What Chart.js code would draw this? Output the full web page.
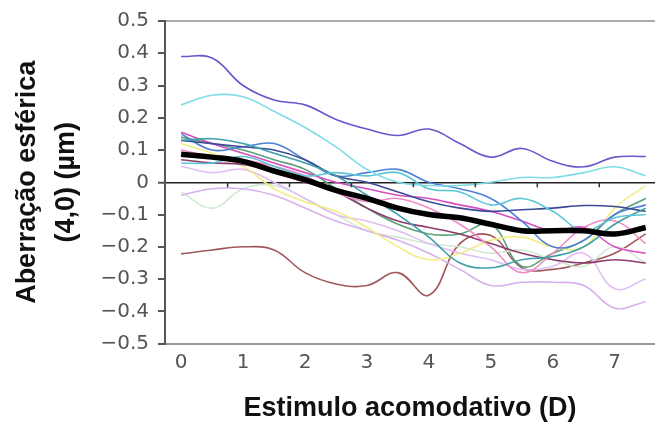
<!DOCTYPE html>
<html lang="pt">
<head>
    <meta charset="UTF-8">
    <title>Aberração esférica vs estímulo acomodativo</title>
    <script src="https://cdn.jsdelivr.net/npm/chart.js"></script>
    <style>
        html, body {
            margin: 0;
            padding: 0;
            background: #fff;
        }
        .chart-container {
            position: relative;
            width: 655px;
            height: 425px;
        }
    </style>
</head>
<body>
    <div class="chart-container">
        <canvas id="aberrationChart"></canvas>
    </div>

    <script>
        // Accommodative stimulus (D) sample points
        const stimulus = [0, 0.5, 1, 1.5, 2, 2.5, 3, 3.5, 4, 4.5, 5, 5.5, 6, 6.5, 7, 7.5];
        const xTicks = [0, 1, 2, 3, 4, 5, 6, 7];
        const yTicks = [0.5, 0.4, 0.3, 0.2, 0.1, 0, -0.1, -0.2, -0.3, -0.4, -0.5];

        // Mean curve (thick black)
        const mean = [0.087, 0.078, 0.065, 0.035, 0.008, -0.025, -0.05, -0.08, -0.1, -0.11, -0.13, -0.15, -0.15, -0.15, -0.16, -0.14];

        // Individual subjects
        const purple   = [0.39, 0.385, 0.30, 0.255, 0.24, 0.195, 0.165, 0.145, 0.165, 0.12, 0.078, 0.105, 0.065, 0.048, 0.078, 0.08];
        const cyan     = [0.24, 0.27, 0.265, 0.22, 0.17, 0.11, 0.04, 0.0, -0.01, -0.01, 0.0, 0.015, 0.015, 0.03, 0.048, 0.02];
        const cyan2    = [0.06, 0.06, 0.08, 0.05, 0.02, 0.03, 0.02, 0.03, -0.02, -0.03, -0.07, -0.05, -0.09, -0.15, -0.11, -0.1];
        const teal     = [0.13, 0.135, 0.12, 0.09, 0.06, 0.02, -0.04, -0.1, -0.17, -0.25, -0.265, -0.24, -0.23, -0.2, -0.13, -0.08];
        const navy     = [0.13, 0.12, 0.11, 0.1, 0.07, 0.02, 0.0, -0.03, -0.06, -0.08, -0.09, -0.085, -0.08, -0.072, -0.075, -0.09];
        const blue     = [0.15, 0.1, 0.11, 0.12, 0.07, 0.02, 0.03, 0.04, 0.0, -0.02, -0.05, -0.12, -0.2, -0.18, -0.1, -0.07];
        const magenta  = [0.155, 0.12, 0.09, 0.06, 0.03, 0.0, -0.02, -0.04, -0.05, -0.07, -0.09, -0.12, -0.15, -0.14, -0.2, -0.22];
        const pink     = [0.1, 0.08, 0.07, 0.05, 0.02, -0.03, -0.06, -0.05, -0.08, -0.13, -0.2, -0.28, -0.22, -0.14, -0.12, -0.19];
        const maroon   = [0.07, 0.06, 0.055, 0.03, 0.0, -0.03, -0.08, -0.12, -0.14, -0.16, -0.19, -0.22, -0.24, -0.25, -0.24, -0.25];
        const yellow   = [0.12, 0.09, 0.05, -0.02, -0.06, -0.09, -0.14, -0.2, -0.24, -0.22, -0.18, -0.17, -0.2, -0.2, -0.08, -0.01];
        const lavender = [-0.04, -0.02, -0.02, -0.04, -0.08, -0.12, -0.15, -0.18, -0.22, -0.27, -0.32, -0.31, -0.31, -0.32, -0.39, -0.37];
        const lilac    = [0.05, 0.03, 0.04, 0.0, -0.05, -0.1, -0.12, -0.15, -0.19, -0.22, -0.24, -0.27, -0.26, -0.22, -0.33, -0.3];
        const mint     = [-0.03, -0.08, -0.02, -0.01, -0.05, -0.1, -0.15, -0.17, -0.19, -0.2, -0.22, -0.21, -0.24, -0.26, -0.2, -0.25];
        const green    = [0.14, 0.12, 0.1, 0.07, 0.04, -0.02, -0.08, -0.13, -0.16, -0.16, -0.13, -0.26, -0.22, -0.18, -0.1, -0.05];
        const brown    = [-0.222, -0.21, -0.2, -0.21, -0.28, -0.315, -0.32, -0.28, -0.35, -0.19, -0.165, -0.265, -0.27, -0.25, -0.22, -0.16];

        const subjects = [
            { data: purple,   color: '#6a56cc' },
            { data: cyan,     color: '#7fdde6' },
            { data: cyan2,    color: '#5cc6d6' },
            { data: teal,     color: '#3fa0a8' },
            { data: navy,     color: '#3b4c96' },
            { data: blue,     color: '#4d80d6' },
            { data: magenta,  color: '#d64ec2' },
            { data: pink,     color: '#f08cc8' },
            { data: maroon,   color: '#8c3c6c' },
            { data: yellow,   color: '#f2ee86' },
            { data: lavender, color: '#d8b0ee' },
            { data: lilac,    color: '#e2bef2' },
            { data: mint,     color: '#d2ead4' },
            { data: green,    color: '#5aa27a' },
            { data: brown,    color: '#a0585c' }
        ];

        function toPoints(values) {
            return values.map((v, i) => ({ x: stimulus[i], y: v }));
        }

        const datasets = [{
            data: toPoints(mean),
            borderColor: '#000',
            borderWidth: 5.5,
            order: 0
        }];
        subjects.forEach(s => {
            datasets.push({
                data: toPoints(s.data),
                borderColor: s.color,
                borderWidth: 1.6,
                order: 1
            });
        });

        // small tick marks hanging below the zero line
        const zeroTicks = {
            id: 'zeroTicks',
            afterDatasetsDraw(chart) {
                const ctx = chart.ctx;
                const x = chart.scales.x;
                const y0 = chart.scales.y.getPixelForValue(0);
                ctx.save();
                ctx.strokeStyle = '#333';
                ctx.lineWidth = 1.5;
                xTicks.slice(0, 7).forEach(t => {
                    const px = x.getPixelForValue(t + 0.75);
                    ctx.beginPath();
                    ctx.moveTo(px, y0);
                    ctx.lineTo(px, y0 + 5);
                    ctx.stroke();
                });
                ctx.restore();
            }
        };

        const tickFont = { family: "'DejaVu Sans', sans-serif", size: 20 };
        const titleFont = { family: "'Liberation Sans', Arial, sans-serif", size: 27, weight: 'bold' };

        new Chart(document.getElementById('aberrationChart'), {
            type: 'line',
            data: { datasets },
            plugins: [zeroTicks],
            options: {
                responsive: true,
                maintainAspectRatio: false,
                animation: false,
                layout: { padding: { top: 18, right: 0, bottom: 0, left: 0 } },
                elements: {
                    point: { radius: 0 },
                    line: { tension: 0.4 }
                },
                plugins: {
                    legend: { display: false },
                    tooltip: { enabled: false }
                },
                scales: {
                    x: {
                        type: 'linear',
                        min: -0.26,
                        max: 7.65,
                        afterBuildTicks: scale => {
                            scale.ticks = xTicks.map(v => ({ value: v }));
                        },
                        ticks: {
                            color: '#555',
                            font: tickFont,
                            padding: 7
                        },
                        grid: {
                            display: true,
                            drawOnChartArea: false,
                            drawTicks: false
                        },
                        border: { color: '#999', width: 2 },
                        title: {
                            display: true,
                            text: 'Estimulo acomodativo (D)',
                            color: '#111',
                            font: titleFont,
                            padding: { top: 11, bottom: 0 }
                        }
                    },
                    y: {
                        min: -0.5,
                        max: 0.5,
                        afterBuildTicks: scale => {
                            scale.ticks = yTicks.map(v => ({ value: v }));
                        },
                        afterFit: scale => {
                            scale.width = 165;
                        },
                        ticks: {
                            color: '#555',
                            font: tickFont,
                            padding: 9,
                            callback: v => v === 0 ? '0' : (v < 0 ? '\u2212' + Math.abs(v).toFixed(1) : v.toFixed(1))
                        },
                        grid: {
                            color: ctx => {
                                const v = ctx.tick ? ctx.tick.value : null;
                                if (v === 0) return '#222';
                                if (v === 0.5) return '#aaa';
                                return 'rgba(0,0,0,0)';
                            },
                            lineWidth: ctx => (ctx.tick && ctx.tick.value === 0) ? 1.5 : 2,
                            tickColor: '#555',
                            tickLength: 7,
                            tickWidth: 2
                        },
                        border: { color: '#555', width: 2 },
                        title: {
                            display: true,
                            text: ['Aberração esférica', '(4,0) (µm)'],
                            color: '#111',
                            font: { family: "'Liberation Sans', Arial, sans-serif", size: 27, weight: 'bold', lineHeight: 1.45 },
                            padding: { top: 8, bottom: 0 }
                        }
                    }
                }
            }
        });
    </script>
</body>
</html>
